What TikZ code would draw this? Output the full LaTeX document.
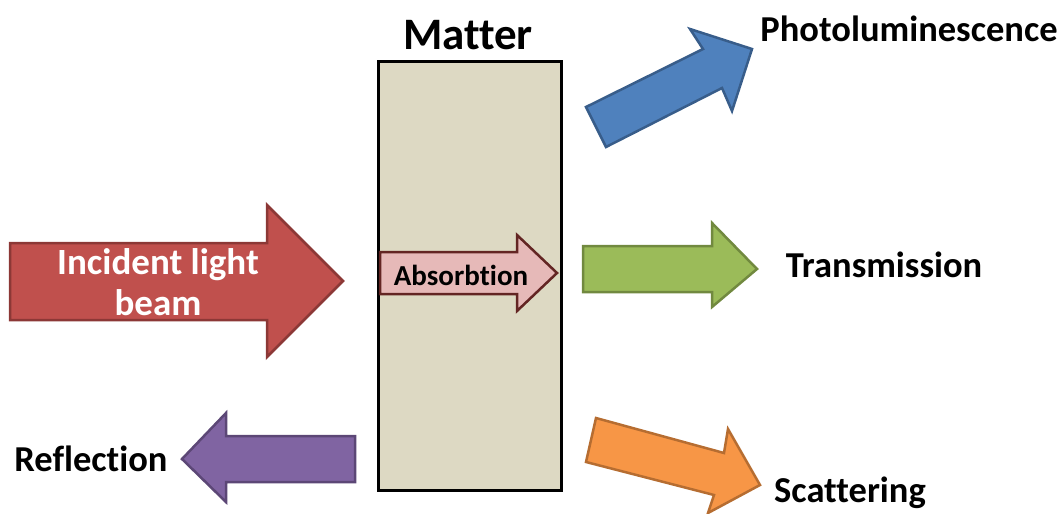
\documentclass[tikz,border=0pt]{standalone}
\usepackage{fontspec}
\setmainfont[Ligatures={NoCommon}]{Carlito}
\definecolor{redF}{HTML}{C0504D}\definecolor{redD}{HTML}{8C3836}
\definecolor{bluF}{HTML}{4F81BD}\definecolor{bluD}{HTML}{385D8A}
\definecolor{grnF}{HTML}{9BBB59}\definecolor{grnD}{HTML}{71893F}
\definecolor{orgF}{HTML}{F79646}\definecolor{orgD}{HTML}{B66D31}
\definecolor{purF}{HTML}{8064A2}\definecolor{purD}{HTML}{5C4776}
\definecolor{absF}{HTML}{E6B9B8}\definecolor{absD}{HTML}{632523}
\definecolor{matF}{HTML}{DDD9C3}
\tikzset{
  shapeline/.style={line width=2.5pt, line join=miter},
  lbl/.style={font=\bfseries\fontsize{36.5}{40}\selectfont, inner sep=0pt},
}
\begin{document}
\begin{tikzpicture}[x=1pt,y=-1pt]
\useasboundingbox (0,0) rectangle (1063,514);
% matter box
\draw[line width=3pt, fill=matF] (378,61) rectangle (561,490);
\node[font=\bfseries\fontsize{45}{48}\selectfont, inner sep=0pt] (matter) at (468,35) {Matter};
% incident
\draw[shapeline, fill=redF, draw=redD] (10,243) -- (267,243) -- (267,205) -- (343,281) -- (267,357) -- (267,320) -- (10,320) -- cycle;
\node[inner sep=0pt, text=white, align=center, font=\bfseries\fontsize{37}{41}\selectfont] (inc) at (158,282) {Incident light\\beam};
% absorbtion
\draw[shapeline, fill=absF, draw=absD] (380,252) -- (517,252) -- (517,235) -- (557,273) -- (517,311) -- (517,294) -- (380,294) -- cycle;
\node[inner sep=0pt, font=\bfseries\fontsize{29}{31}\selectfont] (abs) at (461,275) {Absorbtion};
% photoluminescence (blue)
\draw[shapeline, fill=bluF, draw=bluD] (586,107) -- (703,49) -- (690,29) -- (752,49) -- (732,111) -- (722,88) -- (606,147) -- cycle;
\node[lbl] (pl) at (909,29) {Photoluminescence};
% transmission (green)
\draw[shapeline, fill=grnF, draw=grnD] (583,246) -- (712,246) -- (712,223) -- (757,269) -- (712,307) -- (712,292) -- (583,292) -- cycle;
\node[lbl] (tr) at (884,265) {Transmission};
% scattering (orange)
\draw[shapeline, fill=orgF, draw=orgD] (596,418) -- (724,453) -- (728,429) -- (760,485) -- (708,513) -- (714,495) -- (586,462) -- cycle;
\node[lbl] (sc) at (850,493) {Scattering};
% reflection (purple)
\draw[shapeline, fill=purF, draw=purD] (355,436) -- (226,436) -- (226,413) -- (182,459) -- (226,502) -- (226,482) -- (355,482) -- cycle;
\node[lbl] (re) at (91,459) {Reflection};
\end{tikzpicture}
\end{document}
